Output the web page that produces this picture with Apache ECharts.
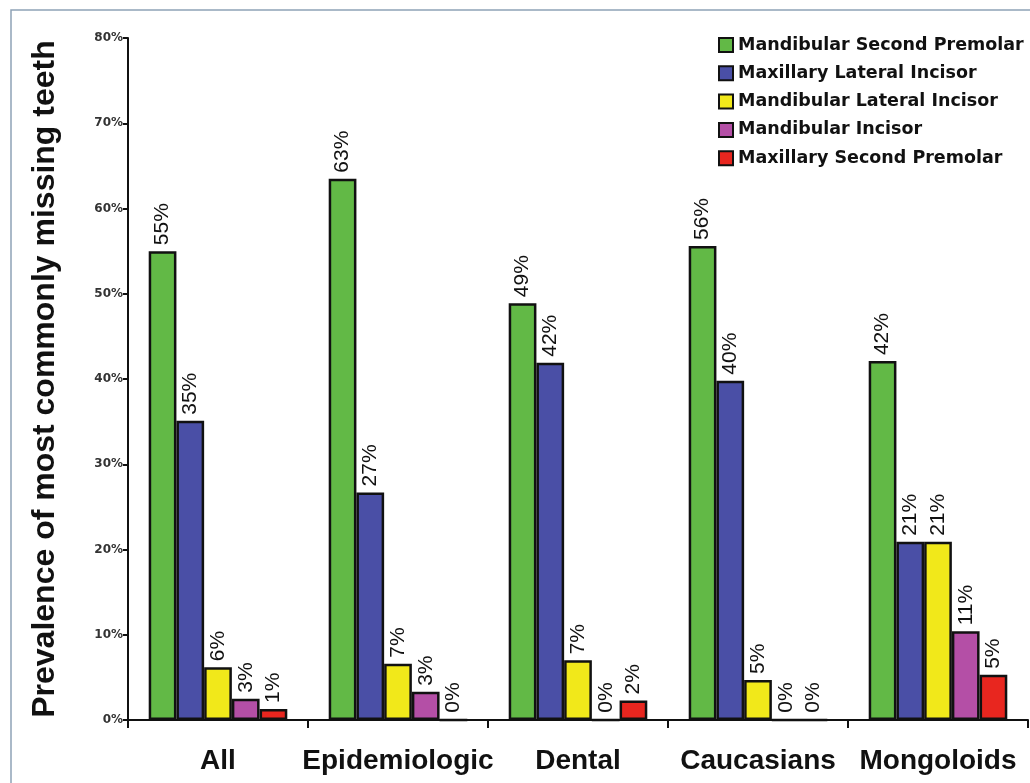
<!DOCTYPE html>
<html>
<head>
<meta charset="utf-8">
<script src="https://cdn.jsdelivr.net/npm/echarts@6/dist/echarts.min.js"></script>
<style>
html,body{margin:0;padding:0;background:#fff;}
#chart{width:1030px;height:783px;}
</style>
</head>
<body>
<div id="chart"></div>
<script>
const categories = ['All', 'Epidemiologic', 'Dental', 'Caucasians', 'Mongoloids'];
const seriesNames = ['Mandibular Second Premolar', 'Maxillary Lateral Incisor', 'Mandibular Lateral Incisor', 'Mandibular Incisor', 'Maxillary Second Premolar'];

const mandibularSecondPremolar = [55.0, 63.5, 48.9, 55.6, 42.1];
const maxillaryLateralIncisor = [35.1, 26.7, 41.9, 39.8, 20.9];
const mandibularLateralIncisor = [6.2, 6.6, 7.0, 4.7, 20.9];
const mandibularIncisor = [2.5, 3.3, 0, 0, 10.4];
const maxillarySecondPremolar = [1.3, 0, 2.3, 0, 5.3];

const labelsMandSecondPremolar = ['55%', '63%', '49%', '56%', '42%'];
const labelsMaxLateralIncisor = ['35%', '27%', '42%', '40%', '21%'];
const labelsMandLateralIncisor = ['6%', '7%', '7%', '5%', '21%'];
const labelsMandIncisor = ['3%', '3%', '0%', '0%', '11%'];
const labelsMaxSecondPremolar = ['1%', '0%', '2%', '0%', '5%'];

const yTicks = [0, 10, 20, 30, 40, 50, 60, 70, 80];

const colors = ['#62b946', '#4a4fa6', '#f1e81a', '#b44fa6', '#e8261f'];
const seriesData = [mandibularSecondPremolar, maxillaryLateralIncisor, mandibularLateralIncisor, mandibularIncisor, maxillarySecondPremolar];
const seriesLabels = [labelsMandSecondPremolar, labelsMaxLateralIncisor, labelsMandLateralIncisor, labelsMandIncisor, labelsMaxSecondPremolar];

const chart = echarts.init(document.getElementById('chart'));
const option = {
  backgroundColor: '#ffffff',
  animation: false,
  graphic: [{
    type: 'rect',
    shape: { x: 11, y: 10, width: 1040, height: 800 },
    style: { fill: 'none', stroke: '#8ea2b6', lineWidth: 1.5 },
    silent: true,
    z: 0
  }],
  legend: {
    orient: 'vertical',
    left: 713,
    top: 31,
    itemWidth: 14,
    itemHeight: 14,
    itemGap: 10.3,
    icon: 'rect',
    data: seriesNames,
    textStyle: {
      fontFamily: 'DejaVu Sans',
      fontWeight: 'bold',
      fontSize: 17.5,
      lineHeight: 18,
      color: '#111'
    }
  },
  grid: {
    left: 128,
    right: 2,
    top: 38,
    bottom: 63,
    containLabel: false,
    outerBoundsMode: 'none'
  },
  xAxis: {
    type: 'category',
    data: categories,
    boundaryGap: true,
    axisLine: { lineStyle: { color: '#111', width: 2 } },
    axisTick: { show: true, length: 8, lineStyle: { color: '#111', width: 2 } },
    axisLabel: {
      interval: 0,
      hideOverlap: false,
      margin: 27,
      fontFamily: 'Liberation Sans',
      fontWeight: 'bold',
      fontSize: 28,
      color: '#111'
    }
  },
  yAxis: {
    type: 'value',
    min: 0,
    max: 80,
    interval: 10,
    name: 'Prevalence of most commonly missing teeth',
    nameLocation: 'middle',
    nameGap: 67,
    nameTextStyle: {
      fontFamily: 'Liberation Sans',
      fontWeight: 'bold',
      fontSize: 32,
      color: '#111'
    },
    axisLine: { show: true, lineStyle: { color: '#111', width: 2 } },
    axisTick: { show: true, length: 5, lineStyle: { color: '#111', width: 2 } },
    splitLine: { show: false },
    axisLabel: {
      margin: 5,
      fontFamily: 'DejaVu Sans',
      fontWeight: 'bold',
      fontSize: 12,
      color: '#333',
      customValues: yTicks,
      formatter: '{value}%'
    }
  },
  series: seriesNames.map((name, i) => ({
    name: name,
    type: 'bar',
    data: seriesData[i],
    barGap: '0%',
    barCategoryGap: '23%',
    itemStyle: { color: colors[i], borderColor: '#111', borderWidth: 2.5 },
    label: {
      show: true,
      position: 'top',
      rotate: 90,
      align: 'left',
      verticalAlign: 'middle',
      distance: 6,
      fontFamily: 'Liberation Sans',
      fontSize: 21,
      color: '#111',
      formatter: (p) => seriesLabels[i][p.dataIndex]
    }
  }))
};
chart.setOption(option);
</script>
</body>
</html>
